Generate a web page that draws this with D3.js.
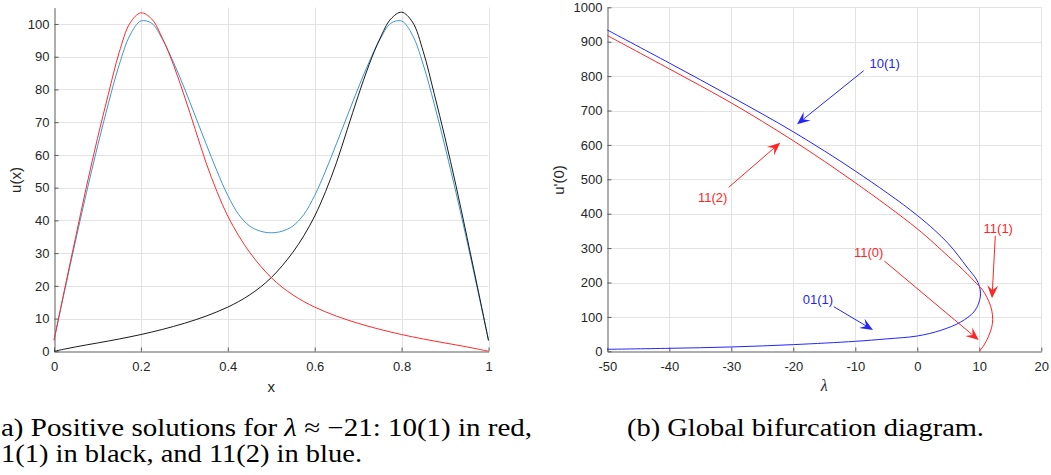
<!DOCTYPE html>
<html><head><meta charset="utf-8">
<script src="https://cdn.jsdelivr.net/npm/d3@7"></script>
<style>html,body{margin:0;padding:0;background:#fff;overflow:hidden}</style>
</head><body><svg id="c" width="1051" height="475"></svg>
<script>
// ---------- Panel (a): positive solutions u(x) ----------
const xs = [0,0.025,0.05,0.075,0.1,0.125,0.15,0.175,0.2,0.225,0.25,0.275,0.3,0.325,0.35,0.375,0.4,0.425,0.45,0.475,0.5,
            0.525,0.55,0.575,0.6,0.625,0.65,0.675,0.7,0.725,0.75,0.775,0.8,0.825,0.85,0.875,0.9,0.925,0.95,0.975,1];
const u10_1 = [3.4,19.4,35,50.5,65,78.5,91.3,100.3,103.4,101.5,95.5,87.5,78,67.8,57.6,48.8,41.3,35.3,30.3,26.1,22.5,
               19.6,17.2,15.2,13.5,12.05,10.75,9.6,8.55,7.6,6.7,5.88,5.12,4.42,3.76,3.14,2.54,1.96,1.35,0.7,0];
const u01_1 = [0,0.7,1.35,1.96,2.54,3.14,3.76,4.42,5.12,5.88,6.7,7.6,8.55,9.6,10.75,12.05,13.5,15.2,17.2,19.6,22.5,
               26.1,30.3,35.3,41.3,48.8,57.6,67.8,78,87.5,95.5,101.5,103.6,100.6,91.5,78.7,65.2,50.7,35.2,19.4,3.3];
const u11_2 = [3.4,18.8,34,48.6,62.5,75.6,87.5,96.6,100.9,100.2,95.2,88.3,80.4,71.9,63.4,55.1,47.6,41.8,38.3,36.7,36.2,
               36.7,38.3,41.8,47.6,55.1,63.4,71.9,80.4,88.3,95.2,100.2,100.9,96.6,87.5,75.6,62.5,48.6,34,18.8,3.4];
const aXTicks = [0,0.2,0.4,0.6,0.8,1];
const aXTickLabels = ["0","0.2","0.4","0.6","0.8","1"];
const aYTicks = [0,10,20,30,40,50,60,70,80,90,100];

// ---------- Panel (b): global bifurcation diagram ----------
const branchBlueLam = [-50,-40,-30,-20,-10,-5,0,3.8,7.0,9.1,9.9,10.2,10.0,9.5,8.0,5.0,0,-10,-20,-30,-40,-50];
const branchBlueU   = [5.8,8.7,12.6,19.4,29,36,44.5,61,85,114,140,167,190,210,245,313,395,524,638,740,838,934];
const branchRedLam  = [-50,-40,-30,-20,-10,0,5,8,9.5,10.23,10.92,11.56,12.0,12.16,12.0,11.45,10.65,10];
const branchRedU    = [918,821,722,612,490,356,276,226,198,185,167,144,120,92,70,42,15,0];
const bXTicks = [-50,-40,-30,-20,-10,0,10,20];
const bYTicks = [0,100,200,300,400,500,600,700,800,900,1000];

const annLabels  = ["10(1)","11(2)","01(1)","11(0)","11(1)"];
const annTextLam = [-5.26,-33.0,-16.03,-7.84,13.06];
const annTextU   = [837,448,152,286,357];
const annFromLam = [-8.65,-30.42,-13.48,-5.32,12.58];
const annFromU   = [815.7,476.7,129.7,262.5,336];
const annToLam   = [-19.40,-22.10,-7.15,9.90,12.05];
const annToU     = [660,606.4,61.9,32.8,154];
const annSeries  = ["blue","red","blue","red","red"];

// ---------- Drawing ----------
const svg = d3.select('#c');
const SANS = "'Liberation Sans', Arial, Helvetica, sans-serif";
const SERIF = "'Liberation Serif', 'Times New Roman', serif";
const crisp = v => Math.round(v) + 0.5;

function grid(x, y, xt, yt) {
  const g = svg.append('g');
  const [x0, x1] = x.range(), [y0, y1] = y.range();
  g.selectAll('.gx').data(xt.filter(v => v !== x.domain()[0])).join('line')
    .attr('x1', d => crisp(x(d))).attr('x2', d => crisp(x(d)))
    .attr('y1', y0).attr('y2', y1).attr('stroke', '#e3e3e3').attr('stroke-width', 1);
  g.selectAll('.gy').data(yt.filter(v => v !== y.domain()[0])).join('line')
    .attr('y1', d => crisp(y(d))).attr('y2', d => crisp(y(d)))
    .attr('x1', x0).attr('x2', x1).attr('stroke', '#e3e3e3').attr('stroke-width', 1);
}

function axes(x, y, xt, xtl, yt) {
  const gx = svg.append('g').attr('transform', `translate(0,${crisp(y.range()[0])})`)
    .call(d3.axisBottom(x).tickValues(xt).tickFormat((d, i) => xtl ? xtl[i] : String(d))
      .tickSize(-4).tickSizeOuter(0).tickPadding(10));
  const gy = svg.append('g').attr('transform', `translate(${crisp(x.range()[0])},0)`)
    .call(d3.axisLeft(y).tickValues(yt).tickFormat(d => String(d))
      .tickSize(-4).tickSizeOuter(0).tickPadding(5));
  for (const g of [gx, gy]) {
    g.select('.domain').attr('stroke', '#5c5c5c').attr('stroke-width', 1);
    g.selectAll('.tick line').attr('stroke', '#5c5c5c');
    g.selectAll('.tick text').attr('fill', '#262626').style('font-family', SANS).style('font-size', '13px');
  }
}

// Panel (a)
const xa = d3.scaleLinear([0, 1], [54, 488.5]);
const ya = d3.scaleLinear([0, 105], [351.3, 7.6]);
grid(xa, ya, aXTicks, aYTicks);
axes(xa, ya, aXTicks, aXTickLabels, aYTicks);
const lineA = vals => d3.line().x((d, i) => xa(xs[i])).y(d => ya(d)).curve(d3.curveCatmullRom.alpha(0.5))(vals);
const seriesA = [[u11_2, '#3d96d4'], [u01_1, '#1a1a1a'], [u10_1, '#ff2a2a']];
for (const [vals, col] of seriesA) {
  svg.append('path').attr('d', lineA(vals)).attr('fill', 'none').attr('stroke', col).attr('stroke-width', 1);
}
svg.append('text').attr('x', xa(0.5)).attr('y', 386).attr('text-anchor', 'middle').attr('dominant-baseline', 'central')
  .style('font-family', SANS).style('font-size', '15px').attr('fill', '#262626').text('x');
svg.append('text').attr('transform', 'translate(15,180) rotate(-90)').attr('text-anchor', 'middle').attr('dominant-baseline', 'central')
  .style('font-family', SANS).style('font-size', '15px').attr('fill', '#262626').text('u(x)');

// Panel (b)
const xb = d3.scaleLinear([-50, 20], [607.3, 1041.3]);
const yb = d3.scaleLinear([0, 1000], [351.3, 7.3]);
grid(xb, yb, bXTicks, bYTicks);
axes(xb, yb, bXTicks, null, bYTicks);
const lineB = (lam, u) => d3.line().x((d, i) => xb(lam[i])).y((d, i) => yb(u[i])).curve(d3.curveCatmullRom.alpha(0.5))(lam);
const colB = { blue: '#2424ff', red: '#ff2424' };
svg.append('path').attr('d', lineB(branchBlueLam, branchBlueU)).attr('fill', 'none').attr('stroke', colB.blue).attr('stroke-width', 1);
svg.append('path').attr('d', lineB(branchRedLam, branchRedU)).attr('fill', 'none').attr('stroke', colB.red).attr('stroke-width', 1);

svg.append('text').attr('x', xb(-15)).attr('y', 385).attr('text-anchor', 'middle').attr('dominant-baseline', 'central')
  .style('font-family', SERIF).style('font-style', 'italic').style('font-size', '16px').attr('fill', '#262626').text('λ');
svg.append('text').attr('transform', 'translate(558,180) rotate(-90)').attr('text-anchor', 'middle').attr('dominant-baseline', 'central')
  .style('font-family', SANS).style('font-size', '15px').attr('fill', '#262626').text("u'(0)");

// annotations (arrows)
annLabels.forEach((lab, i) => {
  const c = colB[annSeries[i]];
  const fx = xb(annFromLam[i]), fy = yb(annFromU[i]);
  const tx = xb(annToLam[i]), ty = yb(annToU[i]);
  const ang = Math.atan2(ty - fy, tx - fx);
  const L = 13, W = 5.5, N = 8;
  svg.append('line').attr('x1', fx).attr('y1', fy).attr('x2', tx - Math.cos(ang) * N).attr('y2', ty - Math.sin(ang) * N)
    .attr('stroke', c).attr('stroke-width', 1);
  const deg = ang * 180 / Math.PI;
  svg.append('path').attr('d', `M0,0 L${-L},${-W} L${-N},0 L${-L},${W} Z`)
    .attr('transform', `translate(${tx},${ty}) rotate(${deg})`).attr('fill', c);
  svg.append('text').attr('x', xb(annTextLam[i])).attr('y', yb(annTextU[i])).attr('text-anchor', 'middle')
    .attr('dominant-baseline', 'central').style('font-family', SANS).style('font-size', '13px').attr('fill', c).text(lab);
});

// captions (the reference crops the left edge of panel (a)'s caption; only the visible part is drawn)
const cap = svg.append('g').style('font-family', SERIF).style('font-size', '25px').attr('fill', '#000');
const c1 = cap.append('text').attr('x', 1).attr('y', 436).attr('textLength', 531).attr('lengthAdjust', 'spacingAndGlyphs');
c1.append('tspan').text('a) Positive solutions for ');
c1.append('tspan').style('font-style', 'italic').text('λ');
c1.append('tspan').text(' ≈ −21: 10(1) in red,');
cap.append('text').attr('x', 1).attr('y', 462).attr('textLength', 361).attr('lengthAdjust', 'spacingAndGlyphs')
  .text('1(1) in black, and 11(2) in blue.');
cap.append('text').attr('x', 627).attr('y', 436).attr('textLength', 357).attr('lengthAdjust', 'spacingAndGlyphs')
  .text('(b) Global bifurcation diagram.');
</script></body></html>
